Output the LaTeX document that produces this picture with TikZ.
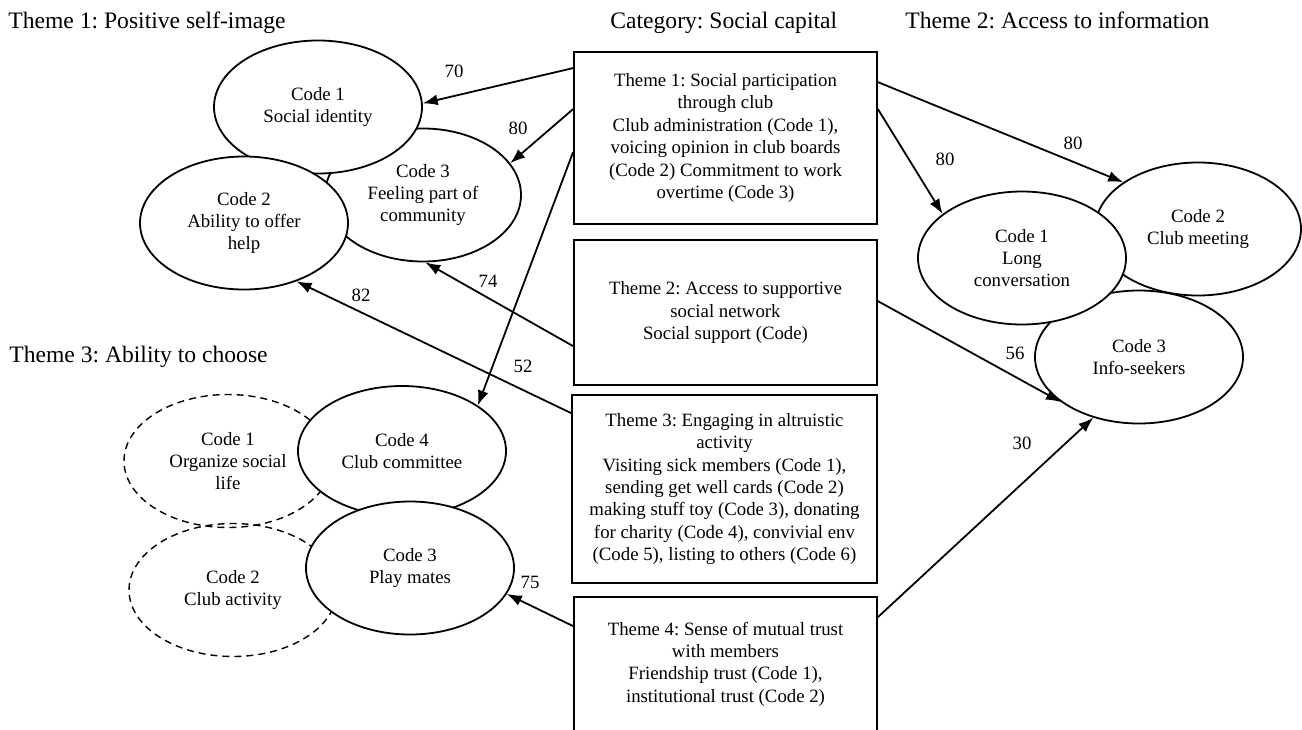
\documentclass[tikz,border=0pt]{standalone}
\usepackage{fontspec}
\setmainfont{Liberation Serif}
\usetikzlibrary{shapes.geometric, arrows.meta, calc}
\frenchspacing

\begin{document}
\begin{tikzpicture}[
    x=0.5pt, y=-0.5pt,
    txt/.style={font=\fontsize{9.4}{11.2}\selectfont},
    head/.style={font=\fontsize{11.8}{14}\selectfont, inner sep=0pt},
    codebox/.style={ellipse, draw, line width=0.9pt, fill=white, inner sep=0pt, minimum width=104pt, minimum height=66.5pt, align=center, txt},
    dashcode/.style={codebox, fill=none, line width=0.7pt, dash pattern=on 3.5pt off 2.5pt},
    themebox/.style={rectangle, draw, line width=0.9pt, fill=white, minimum width=151.5pt, align=center, txt},
    arrow/.style={-{Latex[length=7.5pt, width=5.5pt]}, line width=0.9pt},
    num/.style={txt, inner sep=1pt}
]
\useasboundingbox (0,0) rectangle (1302,729);

% === Headings ===
\node[head, anchor=base west] (headself) at (8,28) {Theme 1: Positive self-image};
\node[head, anchor=base west] (headcat) at (610,28) {Category: Social capital};
\node[head, anchor=base west] (headinfo) at (905,28) {Theme 2: Access to information};
\node[head, anchor=base west] (headchoose) at (9,362) {Theme 3: Ability to choose};

% === Left: Positive self-image ===
\node[codebox, minimum width=98pt] (commun) at (423,195) {Code 3\\Feeling part of\\community};
\node[codebox] (ident) at (318,107) {Code 1\\Social identity};
\node[codebox] (helpcode) at (244,223) {Code 2\\Ability to offer\\help};

% === Left: Ability to choose ===
\node[dashcode] (organize) at (228,461) {Code 1\\Organize social\\life};
\node[dashcode] (activity) at (233,590) {Code 2\\Club activity};
\node[codebox, minimum height=65pt] (committee) at (402,451) {Code 4\\Club committee};
\node[codebox] (playmates) at (410,568) {Code 3\\Play mates};

% === Right: Access to information ===
\node[codebox, minimum width=103pt] (meeting) at (1198,229) {Code 2\\Club meeting};
\node[codebox] (seekers) at (1139,357) {Code 3\\Info-seekers};
\node[codebox] (longconv) at (1022,258) {Code 1\\Long\\conversation};

% === Middle: Social capital themes ===
\node[themebox, minimum height=86pt] (partbox) at (725.5,138) {Theme 1: Social participation\\through club\\Club administration (Code 1),\\voicing opinion in club boards\\(Code 2) Commitment to work\\overtime (Code 3)};
\node[themebox, minimum height=72.5pt] (netbox) at (725.5,312.5) {Theme 2: Access to supportive\\social network\\Social support (Code)};
\node[themebox, minimum height=94pt, minimum width=152.5pt] (altbox) at (724.5,489) {Theme 3: Engaging in altruistic\\activity\\Visiting sick members (Code 1),\\sending get well cards (Code 2)\\making stuff toy (Code 3), donating\\for charity (Code 4), convivial env\\(Code 5), listing to others (Code 6)};
\node[themebox, minimum height=67pt] (trustbox) at (725.5,664) {Theme 4: Sense of mutual trust\\with members\\Friendship trust (Code 1),\\institutional trust (Code 2)};

% === Arrows to the left ===
\draw[arrow] ($(partbox.north west)+(0,17)$) -- (ident.2);
\draw[arrow] ($(partbox.north west)+(0,58)$) -- (commun.20);
\draw[arrow] ($(partbox.north west)+(0,101)$) -- (committee.31);
\draw[arrow] ($(netbox.north west)+(0,107)$) -- (commun.-88);
\draw[arrow] ($(altbox.north west)+(0,19)$) -- (helpcode.-48);
\draw[arrow] ($(trustbox.north west)+(0,30)$) -- (playmates.-15);

% === Arrows to the right ===
\draw[arrow] ($(partbox.north east)+(0,31)$) -- (meeting.148);
\draw[arrow] ($(partbox.north east)+(0,58)$) -- (longconv.151);
\draw[arrow] ($(netbox.north east)+(0,62)$) -- (seekers.-150);
\draw[arrow] ($(trustbox.north east)+(0,21)$) -- (seekers.-127);

% === Weights ===
\node[num] (w70) at (454,71) {70};
\node[num] (w80a) at (518,128) {80};
\node[num] (w52) at (523,366) {52};
\node[num] (w74) at (488,281) {74};
\node[num] (w82) at (361,295) {82};
\node[num] (w75) at (530,582) {75};
\node[num] (w80b) at (1073,143) {80};
\node[num] (w80c) at (945,159) {80};
\node[num] (w56) at (1015,353) {56};
\node[num] (w30) at (1022,443) {30};

\end{tikzpicture}
\end{document}
